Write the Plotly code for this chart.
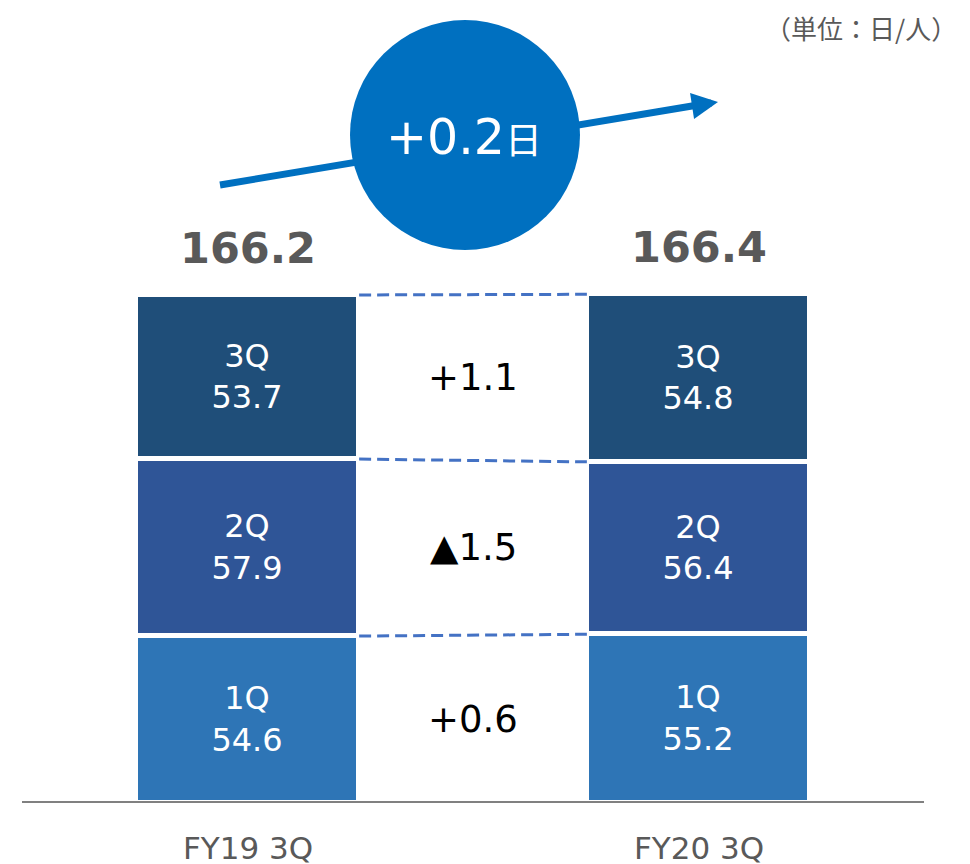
import plotly.graph_objects as go

# data
periods = ["FY19 3Q", "FY20 3Q"]
quarters = ["1Q", "2Q", "3Q"]
fy19 = [54.6, 57.9, 53.7]
fy20 = [55.2, 56.4, 54.8]
unit_label = "（単位：日/人）"

colors = ["#2e75b6", "#2f5597", "#1f4e79"]
FONT = "DejaVu Sans, Noto Sans CJK JP"

# canvas / plot-area geometry (pixels); page body adds an 8px offset
W, H = 970, 864
OFF = 8
L, R, T, B = 22 - OFF, 46 + OFF, 0, 61 + OFF
PW, PH = W - L - R, H - T - B


def px(x):
    return (x - OFF - L) / PW


def py(y):
    return (H - B - (y - OFF)) / PH


BAR_W = 0.495
xs = [0, 1]

fig = go.Figure()

for i, q in enumerate(quarters):
    vals = [fy19[i], fy20[i]]
    fig.add_trace(go.Bar(
        x=xs, y=vals, width=BAR_W,
        marker=dict(color=colors[i], line=dict(color="white", width=5)),
        text=[f"{q}<br>{v:.1f}" for v in vals],
        textposition="inside", insidetextanchor="middle",
        textfont=dict(color="white", size=32, family=FONT),
        textangle=0, hoverinfo="skip", showlegend=False,
    ))

# dashed connectors between segment tops + change labels
cum19, cum20 = 0, 0
for i in range(len(quarters)):
    lo19, lo20 = cum19, cum20
    cum19 += fy19[i]
    cum20 += fy20[i]
    fig.add_trace(go.Scatter(
        x=[BAR_W / 2, 1 - BAR_W / 2], y=[cum19, cum20], mode="lines",
        line=dict(color="#4472c4", width=3, dash="12px,6px"),
        hoverinfo="skip", showlegend=False,
    ))
    d = round(fy20[i] - fy19[i], 1)
    lab = f"+{d:.1f}" if d >= 0 else f"▲{abs(d):.1f}"
    mid = ((lo19 + cum19) / 2 + (lo20 + cum20) / 2) / 2
    fig.add_annotation(x=0.5, y=mid, text=lab, showarrow=False,
                       font=dict(size=37, color="black", family=FONT))

totals = [round(sum(fy19), 1), round(sum(fy20), 1)]
for x, t in zip(xs, totals):
    fig.add_annotation(x=x, y=t, text=f"<b>{t:.1f}</b>", showarrow=False,
                       yanchor="bottom", yshift=20,
                       font=dict(size=43, color="#595959", family=FONT))

for x, p in zip(xs, periods):
    fig.add_annotation(x=x, y=0, text=p, showarrow=False, yanchor="top",
                       yshift=-25, font=dict(size=31, color="#595959", family=FONT))

diff = round(totals[1] - totals[0], 1)

# arrow line, circle, arrow head
fig.add_shape(type="line", xref="paper", yref="paper",
              x0=px(220), y0=py(185), x1=px(698), y1=py(105),
              line=dict(color="#0070c0", width=7))
fig.add_shape(type="circle", xref="paper", yref="paper",
              x0=px(350), x1=px(580), y0=py(250), y1=py(20),
              fillcolor="#0070c0", line=dict(width=0))
fig.add_annotation(xref="paper", yref="paper", x=px(718), y=py(102),
                   ax=-26, ay=4, showarrow=True, arrowhead=2, arrowsize=0.75,
                   arrowwidth=7, arrowcolor="#0070c0", standoff=0, text="")
fig.add_annotation(xref="paper", yref="paper", x=px(464), y=py(138),
                   xanchor="center", yanchor="middle",
                   text=f"+{diff:.1f}<span style='font-size:37px'>日</span>",
                   showarrow=False,
                   font=dict(size=49, color="white", family=FONT))

fig.add_annotation(xref="paper", yref="paper", x=px(958), y=py(8),
                   xanchor="right", yanchor="top", text=unit_label,
                   showarrow=False, borderpad=0,
                   font=dict(size=26, color="#595959", family="Noto Sans CJK JP"))

# baseline
fig.add_shape(type="line", xref="paper", yref="y", x0=0, x1=1, y0=0, y1=0,
              line=dict(color="#808080", width=4))

fig.update_layout(
    width=W, height=H,
    margin=dict(l=L, r=R, t=T, b=B),
    barmode="stack", bargap=0,
    plot_bgcolor="white", paper_bgcolor="white",
    xaxis=dict(range=[-0.5, 1.5], visible=False),
    yaxis=dict(range=[0, (803 - OFF) / 3.057], visible=False),
    showlegend=False,
)

fig.write_html("out.html")
